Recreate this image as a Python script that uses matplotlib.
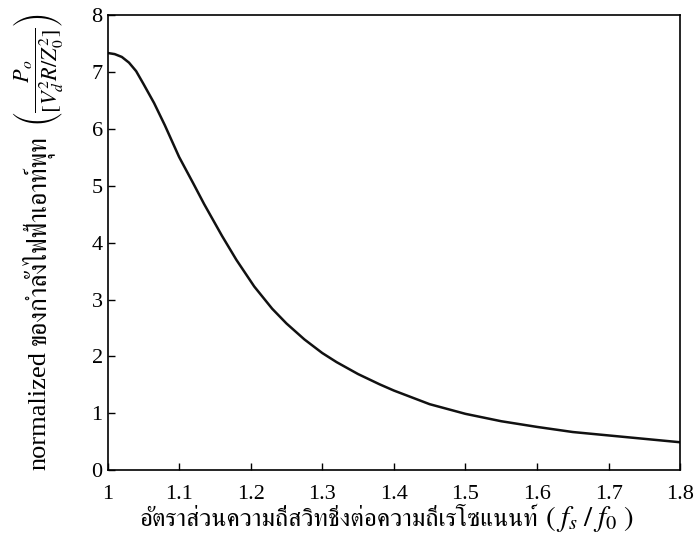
import matplotlib
matplotlib.use("Agg")
import matplotlib.pyplot as plt
from matplotlib import font_manager, ft2font

# normalized output power vs switching/resonant frequency ratio
freq_ratio = [1.00, 1.01, 1.02, 1.03, 1.04, 1.05, 1.065, 1.08, 1.10, 1.12, 1.135,
              1.16, 1.18, 1.205, 1.23, 1.25, 1.275, 1.30, 1.32, 1.35, 1.38, 1.40,
              1.45, 1.50, 1.55, 1.60, 1.65, 1.70, 1.75, 1.80]
power_norm = [7.34, 7.32, 7.27, 7.17, 7.02, 6.80, 6.46, 6.07, 5.51, 5.04, 4.68,
              4.12, 3.70, 3.23, 2.84, 2.58, 2.30, 2.06, 1.90, 1.69, 1.51, 1.40,
              1.16, 0.99, 0.86, 0.76, 0.67, 0.61, 0.55, 0.49]
x_ticks = [1, 1.1, 1.2, 1.3, 1.4, 1.5, 1.6, 1.7, 1.8]
x_tick_labels = ["1", "1.1", "1.2", "1.3", "1.4", "1.5", "1.6", "1.7", "1.8"]
y_ticks = [0, 1, 2, 3, 4, 5, 6, 7, 8]

x_label_thai = "อัตราส่วนความถี่สวิทชิ่งต่อความถี่เรโซแนนท์"
x_label_math = r"$(\;f_s\;/\;f_0\;)$"
y_label_latin = "normalized"
y_label_thai = "ของกำลังไฟฟ้าเอาท์พุท"
y_label_math = r"$\left(\dfrac{P_o}{[V_d^2R/Z_0^2]}\right)$"


def thai_fonts() -> list[str]:
    names = []
    for f in font_manager.fontManager.ttflist:
        try:
            if 0x0E01 in ft2font.FT2Font(f.fname).get_charmap() and f.name not in names:
                names.append(f.name)
        except Exception:
            pass
    # looped / serif thai looks closest to the printed original
    names.sort(key=lambda n: not ("Looped" in n or "Serif" in n))
    return names


serif = "Liberation Serif"
thai_family = thai_fonts()[:1] + [serif, "DejaVu Sans"]
plt.rcParams["mathtext.fontset"] = "stix"
plt.rcParams["font.family"] = [serif, "DejaVu Sans"]

W, H = 695, 533
fig = plt.figure(figsize=(W / 100, H / 100), dpi=100)
ax = fig.add_axes([0.1547, 0.118, 0.824, 0.853])
ax.plot(freq_ratio, power_norm, color="#111111", linewidth=1.8)

ax.set_xlim(1, 1.8)
ax.set_ylim(0, 8)
ax.set_xticks(x_ticks, x_tick_labels)
ax.set_yticks(y_ticks)
ax.tick_params(direction="in", length=5, labelsize=16, width=1)
ax.tick_params(axis="x", pad=11)
for spine in ax.spines.values():
    spine.set_linewidth(1.2)

renderer = fig.canvas.get_renderer()

# x label: thai text followed by the frequency ratio
xt = fig.text(140 / W, 1 - 526 / H, x_label_thai, family=thai_family, fontsize=18,
              ha="left", va="baseline")
bb = xt.get_window_extent(renderer)
fig.text((bb.x1 + 6) / W, 1 - 526 / H, x_label_math, fontsize=21, ha="left", va="baseline")

# y label: latin word, thai text, then the normalising fraction
yl = fig.text(45 / W, 63 / H, y_label_latin, fontsize=19, rotation=90,
              rotation_mode="anchor", ha="left", va="baseline")
bb = yl.get_window_extent(renderer)
fig.text(45 / W, (bb.y1 + 6) / H, y_label_thai, family=thai_family, fontsize=18.5,
         rotation=90, rotation_mode="anchor", ha="left", va="baseline")
fig.text(38 / W, 1 - 70 / H, y_label_math, fontsize=16, rotation=90,
         rotation_mode="anchor", ha="center", va="center")

fig.savefig("out.png", dpi=100)
plt.close(fig)
